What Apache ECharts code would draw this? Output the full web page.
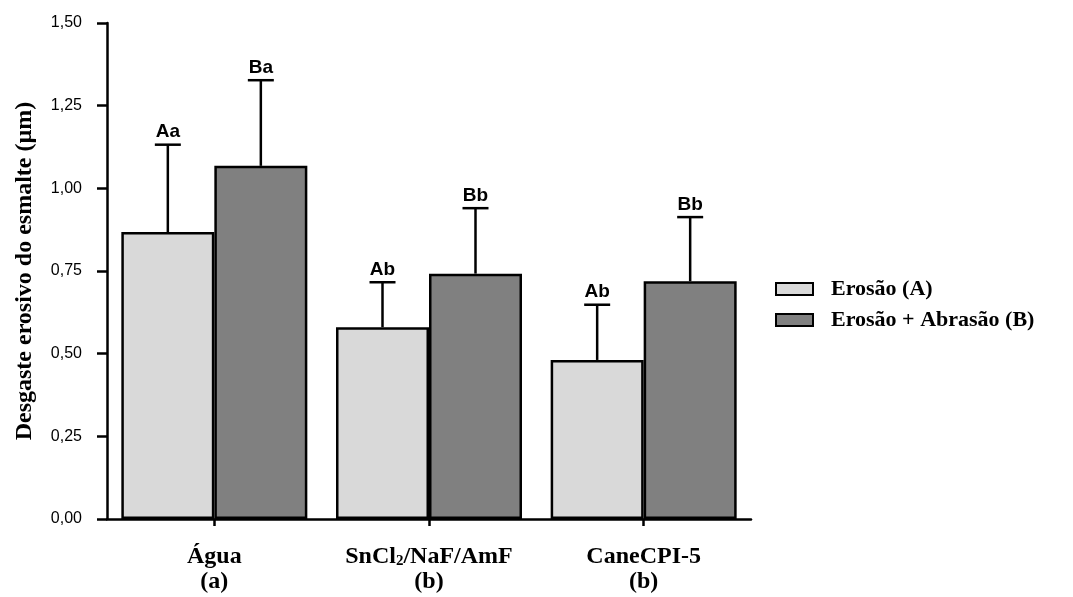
<!DOCTYPE html>
<html>
<head>
<meta charset="utf-8">
<script src="https://cdn.jsdelivr.net/npm/echarts@6/dist/echarts.min.js"></script>
<style>html,body{margin:0;padding:0;background:#fff;}#c{width:1073px;height:597px;}</style>
</head>
<body>
<div id="c"></div>
<script>
const categories = ['Água', 'SnCl2/NaF/AmF', 'CaneCPI-5'];
const groupLetters = ['(a)', '(b)', '(b)'];
const seriesNames = ['Erosão (A)', 'Erosão + Abrasão (B)'];
const erosao = [0.868, 0.580, 0.481];
const erosaoAbrasao = [1.068, 0.742, 0.719];
const erosaoErr = [1.132, 0.716, 0.648];      // top of error bar
const erosaoAbrasaoErr = [1.327, 0.940, 0.913];
const erosaoLetters = ['Aa', 'Ab', 'Ab'];
const erosaoAbrasaoLetters = ['Ba', 'Bb', 'Bb'];
const yTicks = [0, 0.25, 0.5, 0.75, 1.0, 1.25, 1.5];

const SERIF = '"Liberation Serif", "Times New Roman", serif';
const SANS = '"Liberation Sans", Arial, sans-serif';
const BAR_W = 93;
const chart = echarts.init(document.getElementById('c'), null, {renderer: 'canvas'});

function errSeries(name, vals, tops, letters, side) {
  return {
    type: 'custom',
    name: name + ' err',
    z: 5,
    data: vals.map((v, i) => [i, v, tops[i], letters[i]]),
    renderItem: function (params, api) {
      const i = api.value(0);
      const base = api.coord([i, api.value(1)]);
      const top = api.coord([i, api.value(2)]);
      const x = base[0] + side * BAR_W / 2;
      const cap = 13;
      return {
        type: 'group',
        children: [
          {type: 'line', shape: {x1: x, y1: base[1], x2: x, y2: top[1]}, style: {stroke: '#000', lineWidth: 2.5}},
          {type: 'line', shape: {x1: x - cap, y1: top[1], x2: x + cap, y2: top[1]}, style: {stroke: '#000', lineWidth: 2.5}},
          {type: 'text', x: x, y: top[1] - 3, style: {text: letters[i], fill: '#000', font: 'bold 19px ' + SANS, align: 'center', verticalAlign: 'bottom'}}
        ]
      };
    },
    tooltip: {show: false}
  };
}

const option = {
  animation: false,
  backgroundColor: '#fff',
  grid: {left: 107, right: 322, top: 23, bottom: 78, containLabel: false, outerBoundsMode: 'none'},
  legend: {
    orient: 'vertical',
    left: 770,
    top: 273,
    icon: 'rect',
    itemWidth: 37,
    itemHeight: 12,
    itemGap: 9,
    data: seriesNames,
    textStyle: {fontFamily: SERIF, fontWeight: 'bold', fontSize: 22, color: '#000', padding: [0, 0, 0, 13]}
  },
  xAxis: {
    type: 'category',
    data: categories,
    axisLine: {lineStyle: {color: '#000', width: 2.5}},
    axisTick: {show: true, alignWithLabel: true, length: 7, lineStyle: {color: '#000', width: 2.5}},
    axisLabel: {
      margin: 25,
      interval: 0,
      formatter: function (v, i) {
        const name = v.replace('Cl2', 'Cl}{sub|2}{m|');
        return '{m|' + name + '}\n{m|' + groupLetters[i] + '}';
      },
      rich: {
        m: {fontFamily: SERIF, fontWeight: 'bold', fontSize: 24, color: '#000', lineHeight: 25},
        sub: {fontFamily: SERIF, fontWeight: 'bold', fontSize: 15, color: '#000', lineHeight: 25, verticalAlign: 'bottom', padding: [12, 0, 0, 0]}
      }
    }
  },
  yAxis: {
    type: 'value',
    min: 0,
    max: 1.5,
    interval: 0.25,
    name: 'Desgaste erosivo do esmalte (µm)',
    nameLocation: 'middle',
    nameGap: 70,
    nameTextStyle: {fontFamily: SERIF, fontWeight: 'bold', fontSize: 24, color: '#000'},
    splitLine: {show: false},
    axisLine: {show: true, lineStyle: {color: '#000', width: 2.5}},
    axisTick: {show: true, length: 10, lineStyle: {color: '#000', width: 2.5}},
    axisLabel: {
      margin: 25,
      color: '#000',
      fontFamily: SANS,
      fontSize: 16,
      formatter: function (v) { return yTicks.indexOf(v) >= 0 ? v.toFixed(2).replace('.', ',') : ''; }
    }
  },
  series: [
    {
      type: 'bar', name: seriesNames[0], data: erosao, barWidth: BAR_W, barGap: '0%',
      itemStyle: {color: '#d9d9d9', borderColor: '#000', borderWidth: 2.5}, z: 2
    },
    {
      type: 'bar', name: seriesNames[1], data: erosaoAbrasao, barWidth: BAR_W, barGap: '0%',
      itemStyle: {color: '#808080', borderColor: '#000', borderWidth: 2.5}, z: 2
    },
    errSeries(seriesNames[0], erosao, erosaoErr, erosaoLetters, -1),
    errSeries(seriesNames[1], erosaoAbrasao, erosaoAbrasaoErr, erosaoAbrasaoLetters, 1)
  ]
};
chart.setOption(option);
</script>
</body>
</html>
